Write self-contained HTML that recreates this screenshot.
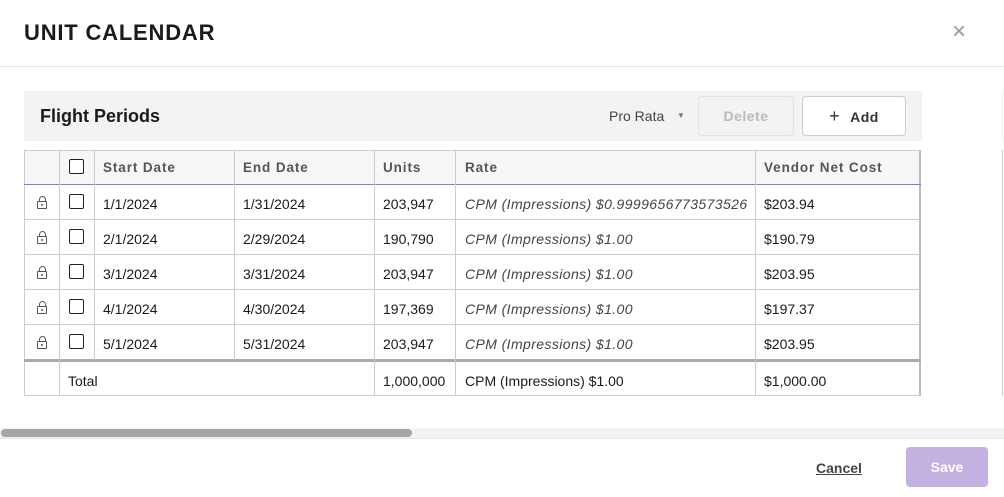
<!DOCTYPE html>
<html><head><style>
*{margin:0;padding:0;box-sizing:border-box}
body{width:1004px;height:497px;background:#fff;font-family:"Liberation Sans",sans-serif;position:relative;overflow:hidden;color:#1a1a1a}
.a{position:absolute}
.t{font-size:14px;line-height:1}
.h{font-size:13.5px;color:#555;font-weight:bold;letter-spacing:0.9px;line-height:1}
.i{font-style:italic;color:#444;letter-spacing:0.4px}
.vl{position:absolute;width:1px;background:#ccc}
.hl{position:absolute;height:1px;background:#ccc}
.cb{position:absolute;width:15px;height:15px;border:1.5px solid #222;border-radius:2px;background:#fff}
.lk{position:absolute;width:10px;height:8px;border:1.3px solid #555;border-radius:1px}
.lk:before{content:"";position:absolute;left:1px;top:-6px;width:5px;height:5px;border:1.3px solid #555;border-bottom:none;border-radius:4px 4px 0 0}
.lk:after{content:"";position:absolute;left:3px;top:2px;width:2px;height:2px;background:#555;border-radius:50%}
</style></head><body>
<div class="a" style="left:24px;top:20px;font-size:22px;font-weight:bold;letter-spacing:0.8px">UNIT CALENDAR</div>
<div class="a" style="left:952px;top:20px;font-size:24px;color:#999;line-height:1">×</div>
<div class="hl" style="left:0;top:66px;width:1004px;background:#e6e6e6"></div>

<div class="a" style="left:24px;top:91px;width:898px;height:50px;background:#f3f3f3"></div>
<div class="a" style="left:40px;top:106px;font-size:18px;font-weight:bold">Flight Periods</div>
<div class="a t" style="left:609px;top:109px;color:#444">Pro Rata</div>
<div class="a" style="left:677px;top:111px;font-size:8px;color:#777">▼</div>
<div class="a" style="left:698px;top:96px;width:96px;height:40px;border:1px solid #e2e2e2;border-radius:4px;background:#f3f3f3;color:#bbb;font-weight:bold;font-size:14px;text-align:center;line-height:38px;letter-spacing:0.5px">Delete</div>
<div class="a" style="left:802px;top:96px;width:104px;height:40px;border:1px solid #ccc;border-radius:4px;background:#fff;color:#333;font-weight:bold;font-size:14px;text-align:center;line-height:38px;letter-spacing:0.5px"><span style="font-weight:normal;font-size:18px;margin-right:10px">+</span>Add</div>

<div class="a" style="left:24px;top:150px;width:897px;height:34px;background:#f7f7f7"></div>
<div class="a" style="left:24px;top:150px;width:897px;height:246px;border:1px solid #ccc;border-right:2px solid #bbb"></div>
<div class="hl" style="left:24px;top:184px;width:897px;background:#9b6dd6"></div>
<div class="hl" style="left:24px;top:219px;width:897px"></div>
<div class="hl" style="left:24px;top:254px;width:897px"></div>
<div class="hl" style="left:24px;top:289px;width:897px"></div>
<div class="hl" style="left:24px;top:324px;width:897px"></div>
<div class="a" style="left:24px;top:359px;width:897px;height:3px;background:#aaa"></div>
<div class="vl" style="left:59px;top:150px;height:246px"></div>
<div class="vl" style="left:94px;top:150px;height:210px"></div>
<div class="vl" style="left:234px;top:150px;height:210px"></div>
<div class="vl" style="left:374px;top:150px;height:246px"></div>
<div class="vl" style="left:455px;top:150px;height:246px"></div>
<div class="vl" style="left:755px;top:150px;height:246px"></div>
<div class="vl" style="left:1002px;top:150px;height:246px"></div>
<div class="vl" style="left:1002px;top:91px;height:50px;background:#eee"></div>

<div class="cb" style="left:69px;top:159px"></div>
<div class="a h" style="left:103px;top:161px">Start Date</div>
<div class="a h" style="left:243px;top:161px">End Date</div>
<div class="a h" style="left:383px;top:161px">Units</div>
<div class="a h" style="left:465px;top:161px">Rate</div>
<div class="a h" style="left:764px;top:161px">Vendor Net Cost</div>

<div class="lk" style="left:37px;top:201px"></div><div class="cb" style="left:69px;top:194px"></div>
<div class="a t" style="left:103px;top:197px">1/1/2024</div><div class="a t" style="left:243px;top:197px">1/31/2024</div><div class="a t" style="left:383px;top:197px">203,947</div><div class="a t i" style="left:465px;top:197px">CPM (Impressions) $0.9999656773573526</div><div class="a t" style="left:764px;top:197px">$203.94</div>

<div class="lk" style="left:37px;top:236px"></div><div class="cb" style="left:69px;top:229px"></div>
<div class="a t" style="left:103px;top:232px">2/1/2024</div><div class="a t" style="left:243px;top:232px">2/29/2024</div><div class="a t" style="left:383px;top:232px">190,790</div><div class="a t i" style="left:465px;top:232px">CPM (Impressions) $1.00</div><div class="a t" style="left:764px;top:232px">$190.79</div>

<div class="lk" style="left:37px;top:271px"></div><div class="cb" style="left:69px;top:264px"></div>
<div class="a t" style="left:103px;top:267px">3/1/2024</div><div class="a t" style="left:243px;top:267px">3/31/2024</div><div class="a t" style="left:383px;top:267px">203,947</div><div class="a t i" style="left:465px;top:267px">CPM (Impressions) $1.00</div><div class="a t" style="left:764px;top:267px">$203.95</div>

<div class="lk" style="left:37px;top:306px"></div><div class="cb" style="left:69px;top:299px"></div>
<div class="a t" style="left:103px;top:302px">4/1/2024</div><div class="a t" style="left:243px;top:302px">4/30/2024</div><div class="a t" style="left:383px;top:302px">197,369</div><div class="a t i" style="left:465px;top:302px">CPM (Impressions) $1.00</div><div class="a t" style="left:764px;top:302px">$197.37</div>

<div class="lk" style="left:37px;top:341px"></div><div class="cb" style="left:69px;top:334px"></div>
<div class="a t" style="left:103px;top:337px">5/1/2024</div><div class="a t" style="left:243px;top:337px">5/31/2024</div><div class="a t" style="left:383px;top:337px">203,947</div><div class="a t i" style="left:465px;top:337px">CPM (Impressions) $1.00</div><div class="a t" style="left:764px;top:337px">$203.95</div>

<div class="a t" style="left:68px;top:374px">Total</div><div class="a t" style="left:383px;top:374px">1,000,000</div><div class="a t" style="left:465px;top:374px">CPM (Impressions) $1.00</div><div class="a t" style="left:764px;top:374px">$1,000.00</div>

<div class="a" style="left:0;top:428px;width:1004px;height:10px;background:#f2f2f2"></div>
<div class="a" style="left:1px;top:429px;width:411px;height:8px;background:#a6a6a6;border-radius:4px"></div>
<div class="hl" style="left:0;top:438px;width:1004px;background:#e6e6e6"></div>
<div class="a" style="left:816px;top:460px;font-size:14px;font-weight:bold;color:#444;text-decoration:underline">Cancel</div>
<div class="a" style="left:906px;top:447px;width:82px;height:40px;background:#c3b1e1;border-radius:4px;color:#fff;font-weight:bold;font-size:14px;text-align:center;line-height:40px">Save</div>
</body></html>
